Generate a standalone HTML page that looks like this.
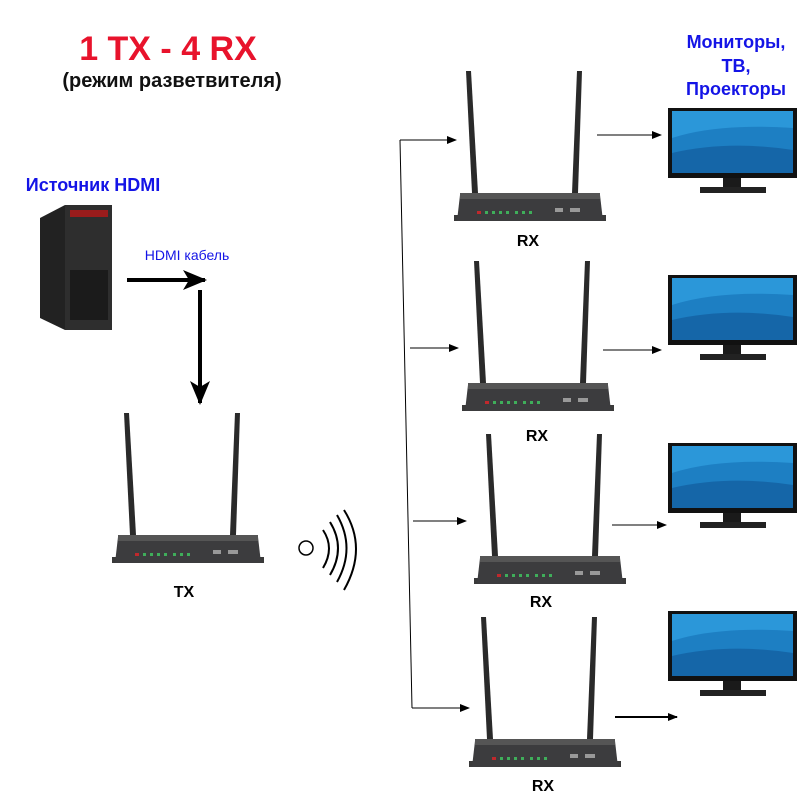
<!DOCTYPE html>
<html><head><meta charset="utf-8"><style>
body{margin:0;background:#fff;}
svg{display:block;font-family:"Liberation Sans",Arial,sans-serif;}
</style></head><body>
<svg width="800" height="800" viewBox="0 0 800 800" xmlns="http://www.w3.org/2000/svg">
<defs>
<marker id="ah" markerWidth="10" markerHeight="8" refX="9" refY="4" orient="auto" markerUnits="userSpaceOnUse"><path d="M0,0 L10,4 L0,8 Z" fill="#000"/></marker>
<marker id="ahb" markerWidth="24" markerHeight="20" refX="22" refY="10" orient="auto" markerUnits="userSpaceOnUse"><path d="M0,0 L24,10 L0,20 L6,10 Z" fill="#000"/></marker>
<g id="dev">
<path d="M6,-122 L11,-122 L18,0 L12,0 Z" fill="#2a2a2a"/>
<path d="M117,-122 L122,-122 L118,0 L112,0 Z" fill="#2a2a2a"/>
<rect x="-6" y="22" width="152" height="6" fill="#3a3a3a"/>
<path d="M0,2 L140,2 L143,28 L-3,28 Z" fill="#3c3c3e"/>
<rect x="0" y="0" width="140" height="6" fill="#555"/>
<rect x="17" y="18" width="4" height="3" fill="#c0282c"/>
<g fill="#3fae5a"><rect x="25" y="18" width="3" height="3"/><rect x="32" y="18" width="3" height="3"/><rect x="39" y="18" width="3" height="3"/><rect x="46" y="18" width="3" height="3"/><rect x="55" y="18" width="3" height="3"/><rect x="62" y="18" width="3" height="3"/><rect x="69" y="18" width="3" height="3"/></g>
<rect x="95" y="15" width="8" height="4" fill="#999"/><rect x="110" y="15" width="10" height="4" fill="#999"/>
</g>
<g id="mon">
<rect x="0" y="0" width="129" height="70" fill="#111"/>
<rect x="4" y="3" width="121" height="62" fill="#1d7fc3"/>
<path d="M4,30 Q50,15 125,20 L125,3 L4,3 Z" fill="#2b97d9"/>
<path d="M4,45 Q60,32 125,42 L125,65 L4,65 Z" fill="#1566a8"/>
<rect x="55" y="70" width="18" height="10" fill="#1a1a1a"/>
<rect x="32" y="79" width="66" height="6" fill="#222"/>
</g>
</defs>

<text x="168" y="60" font-size="34" font-weight="bold" fill="#e8132c" text-anchor="middle">1 TX - 4 RX</text>
<text x="172" y="87" font-size="20" font-weight="bold" fill="#111" text-anchor="middle">(режим разветвителя)</text>
<text x="93" y="191" font-size="18" font-weight="bold" fill="#1414e6" text-anchor="middle">Источник HDMI</text>
<text x="187" y="260" font-size="14" fill="#1414e6" text-anchor="middle">HDMI кабель</text>
<g font-size="18" font-weight="bold" fill="#1414e6" text-anchor="middle">
<text x="736" y="48">Мониторы,</text><text x="736" y="72">ТВ,</text><text x="736" y="95">Проекторы</text></g>

<!-- PC -->
<path d="M40,218 L65,205 L112,205 L112,325 L65,330 L40,318 Z" fill="#222"/>
<rect x="65" y="205" width="47" height="125" fill="#2e2e2e"/>
<rect x="70" y="210" width="38" height="7" fill="#9a1c1c"/>
<rect x="70" y="270" width="38" height="50" fill="#1b1b1b"/>

<line x1="127" y1="280" x2="205" y2="280" stroke="#000" stroke-width="4" marker-end="url(#ahb)"/>
<line x1="200" y1="290" x2="200" y2="403" stroke="#000" stroke-width="4" marker-end="url(#ahb)"/>

<use href="#dev" x="118" y="535"/>
<text x="184" y="597" font-size="16" font-weight="bold" text-anchor="middle">TX</text>
<circle cx="306" cy="548" r="7" fill="none" stroke="#000" stroke-width="1.5"/>
<g fill="none" stroke="#000" stroke-width="2">
<path d="M323,530 Q335,548 323,568"/><path d="M330,522 Q346,548 330,575"/><path d="M337,515 Q356,548 337,582"/><path d="M344,510 Q368,548 344,590"/></g>

<line x1="400" y1="140" x2="412" y2="708" stroke="#000" stroke-width="1"/>
<g stroke="#000" stroke-width="1" marker-end="url(#ah)">
<line x1="400" y1="140" x2="456" y2="140"/>
<line x1="410" y1="348" x2="458" y2="348"/>
<line x1="413" y1="521" x2="466" y2="521"/>
<line x1="412" y1="708" x2="469" y2="708"/>
<line x1="597" y1="135" x2="661" y2="135"/>
<line x1="603" y1="350" x2="661" y2="350"/>
<line x1="612" y1="525" x2="666" y2="525"/>
</g>
<line x1="615" y1="717" x2="677" y2="717" stroke="#000" stroke-width="2" marker-end="url(#ah)"/>

<use href="#dev" x="460" y="193"/>
<use href="#dev" x="468" y="383"/>
<use href="#dev" x="480" y="556"/>
<use href="#dev" x="475" y="739"/>
<g font-size="16" font-weight="bold" text-anchor="middle">
<text x="528" y="246">RX</text><text x="537" y="441">RX</text><text x="541" y="607">RX</text><text x="543" y="791">RX</text></g>

<use href="#mon" x="668" y="108"/>
<use href="#mon" x="668" y="275"/>
<use href="#mon" x="668" y="443"/>
<use href="#mon" x="668" y="611"/>
</svg>
</body></html>
